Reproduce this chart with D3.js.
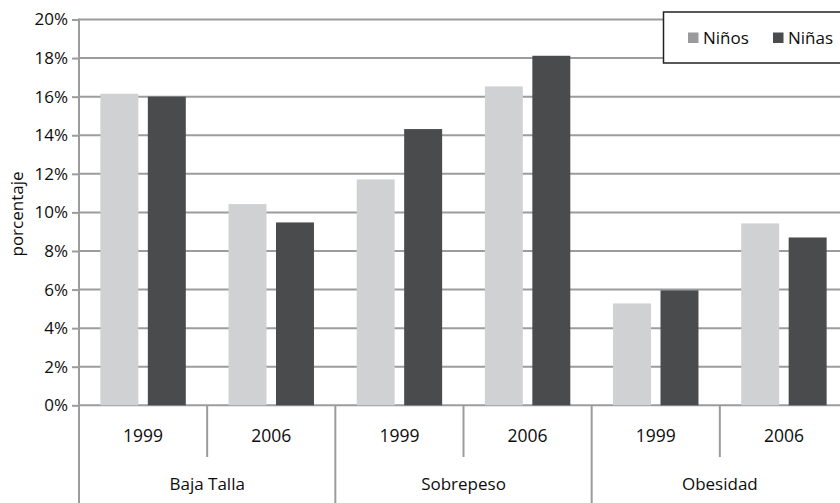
<!DOCTYPE html>
<html>
<head>
<meta charset="utf-8">
<script src="https://cdn.jsdelivr.net/npm/d3@7"></script>
<style>
  body { margin: 0; background: #fff; }
  svg { display: block; font-family: "Open Sans", sans-serif; }
</style>
</head>
<body>
<svg id="chart" width="840" height="503"></svg>
<script>
// data
var categories = ["Baja Talla", "Sobrepeso", "Obesidad"];
var years = ["1999", "2006"];
var series = ["Niños", "Niñas"];
var ninos = [16.15, 10.43, 11.71, 16.53, 5.28, 9.43];
var ninas = [16.0, 9.48, 14.32, 18.12, 5.96, 8.70];
var yTicks = [0, 2, 4, 6, 8, 10, 12, 14, 16, 18, 20];

var barColors = ["#d0d1d3", "#4a4b4d"];
var legendColors = ["#9a9a9c", "#4a4b4d"];
var lineColor = "#9c9c9e";
var textColor = "#0d0d0d";

var svg = d3.select("#chart");

var plotLeft = 79, plotRight = 848, plotTop = 19.5, plotBase = 405.3, plotBottom = 503;

// one slot per (category, year)
var slots = [];
categories.forEach(function (c, i) {
    years.forEach(function (yr, j) {
        slots.push({cat: c, year: yr, key: c + "|" + yr, idx: i * years.length + j});
    });
});

var x = d3.scaleBand().domain(slots.map(function (d) { return d.key; }))
    .range([plotLeft, plotRight]).padding(0);
var xCat = d3.scaleBand().domain(categories).range([plotLeft, plotRight]).padding(0);
var xSer = d3.scaleBand().domain(series).range([0, x.bandwidth()])
    .paddingInner(0.2).paddingOuter(0.45);
var y = d3.scaleLinear().domain([0, 20]).range([plotBase, plotTop]);

// gridlines
svg.append("g").selectAll("line").data(yTicks).join("line")
    .attr("x1", plotLeft).attr("x2", 840)
    .attr("y1", function (d) { return y(d); })
    .attr("y2", function (d) { return y(d); })
    .attr("stroke", lineColor).attr("stroke-width", 2);

// y axis
var yAxis = svg.append("g").attr("transform", "translate(" + plotLeft + ",0)")
    .call(d3.axisLeft(y).tickValues(yTicks).tickSize(7).tickPadding(4)
        .tickFormat(function (d) { return d + "%"; }));
yAxis.select(".domain").remove();
yAxis.selectAll(".tick line").attr("stroke", lineColor).attr("stroke-width", 2);
yAxis.selectAll(".tick text").attr("font-size", 17).attr("fill", textColor)
    .attr("font-family", "Open Sans");

svg.append("line").attr("x1", plotLeft).attr("x2", plotLeft)
    .attr("y1", plotTop - 1).attr("y2", plotBottom)
    .attr("stroke", lineColor).attr("stroke-width", 2);

// bars
var vals = [ninos, ninas];
var g = svg.append("g");
series.forEach(function (s, k) {
    g.selectAll(".bar" + k).data(slots).join("rect")
        .attr("class", "bar" + k)
        .attr("x", function (d) { return x(d.key) + xSer(s); })
        .attr("width", xSer.bandwidth())
        .attr("y", function (d) { return y(vals[k][d.idx]); })
        .attr("height", function (d) { return plotBase - y(vals[k][d.idx]); })
        .attr("fill", barColors[k]);
});

// category axis: inner dividers, group dividers, labels
var inner = slots.filter(function (d) { return d.year !== years[0]; });
svg.append("g").selectAll("line").data(inner).join("line")
    .attr("x1", function (d) { return x(d.key); })
    .attr("x2", function (d) { return x(d.key); })
    .attr("y1", plotBase).attr("y2", 457)
    .attr("stroke", lineColor).attr("stroke-width", 2);

svg.append("g").selectAll("line").data(categories.slice(1)).join("line")
    .attr("x1", function (d) { return xCat(d); })
    .attr("x2", function (d) { return xCat(d); })
    .attr("y1", plotBase).attr("y2", plotBottom)
    .attr("stroke", lineColor).attr("stroke-width", 2);

svg.append("g").selectAll("text").data(slots).join("text")
    .attr("x", function (d) { return x(d.key) + x.bandwidth() / 2; })
    .attr("y", 436).attr("dy", "0.35em")
    .attr("text-anchor", "middle").attr("font-size", 17.5).attr("fill", textColor)
    .text(function (d) { return d.year; });

svg.append("g").selectAll("text").data(categories).join("text")
    .attr("x", function (d) { return xCat(d) + xCat.bandwidth() / 2; })
    .attr("y", 484).attr("dy", "0.35em")
    .attr("text-anchor", "middle").attr("font-size", 17).attr("fill", textColor)
    .text(function (d) { return d; });

// y title
svg.append("text")
    .attr("transform", "translate(17,214) rotate(-90)")
    .attr("text-anchor", "middle").attr("dy", "0.35em")
    .attr("font-size", 17).attr("fill", textColor)
    .text("porcentaje");

// legend
var lg = svg.append("g");
lg.append("rect").attr("x", 663.5).attr("y", 12).attr("width", 200).attr("height", 51)
    .attr("fill", "#fff").attr("stroke", "#222").attr("stroke-width", 1.5);
var legendX = [688, 773];
series.forEach(function (s, k) {
    lg.append("rect").attr("x", legendX[k]).attr("y", 32.5)
        .attr("width", 10.5).attr("height", 10.5).attr("fill", legendColors[k]);
    lg.append("text").attr("x", legendX[k] + 15).attr("y", 38.5).attr("dy", "0.35em")
        .attr("font-size", 17).attr("fill", textColor).text(s);
});
</script>
</body>
</html>
